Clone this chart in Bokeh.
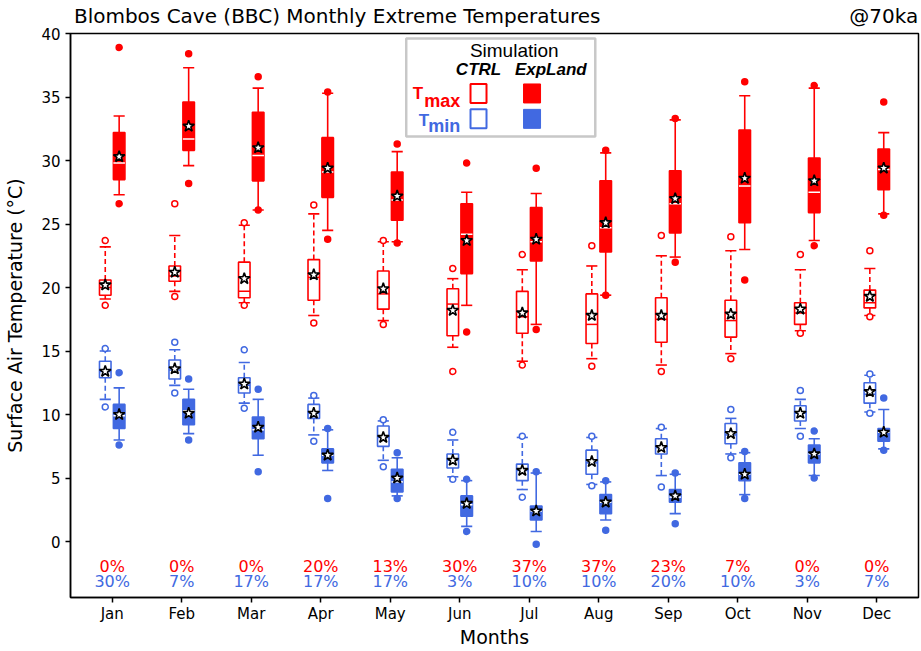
import numpy as np
from bokeh.plotting import figure
from bokeh.models import Range1d, ColumnDataSource, LinearAxis, FixedTicker
from bokeh.core.properties import value
from bokeh.embed import file_html
from bokeh.resources import INLINE

months = ["Jan", "Feb", "Mar", "Apr", "May", "Jun", "Jul", "Aug", "Sep", "Oct", "Nov", "Dec"]

# ---- CTRL Tmax ----
ctrl_tmax_hi_out = [23.7, 26.6, 25.1, 26.5, 23.7, 21.5, 22.6, 23.3, 24.1, 24.0, 22.6, 22.9]
ctrl_tmax_hi = [23.2, 24.1, 24.9, 25.8, 23.6, 20.7, 21.4, 21.7, 22.5, 22.9, 21.4, 21.5]
ctrl_tmax_q3 = [20.6, 21.7, 22.0, 22.2, 21.3, 19.9, 19.7, 19.5, 19.2, 19.0, 18.8, 19.8]
ctrl_tmax_med = [20.0, 20.9, 19.7, 20.8, 19.5, 18.7, 17.7, 17.1, 17.5, 17.4, 18.0, 18.8]
ctrl_tmax_q1 = [19.4, 20.5, 19.2, 19.0, 18.3, 16.2, 16.4, 15.6, 15.7, 16.1, 17.1, 18.4]
ctrl_tmax_lo = [19.1, 19.7, 18.8, 17.8, 17.4, 15.3, 14.2, 14.4, 13.9, 14.8, 16.6, 17.8]
ctrl_tmax_lo_out = [18.6, 19.3, 18.6, 17.2, 17.1, 13.4, 13.9, 13.8, 13.4, 14.4, 16.4, 17.7]
ctrl_tmax_mean = [20.2, 21.2, 20.7, 21.0, 19.9, 18.2, 18.0, 17.8, 17.8, 17.9, 18.3, 19.3]

# ---- ExpLand Tmax ----
exp_tmax_hi_out = [38.9, 38.4, 36.6, 35.4, 31.3, 29.8, 29.4, 30.8, 33.3, 36.2, 35.9, 34.6]
exp_tmax_hi = [33.5, 37.3, 35.7, 35.3, 30.7, 27.5, 27.4, 30.6, 33.2, 35.1, 35.7, 32.2]
exp_tmax_q3 = [32.2, 34.6, 33.8, 31.8, 29.1, 26.6, 26.3, 28.4, 29.2, 32.4, 30.2, 30.9]
exp_tmax_med = [29.8, 31.7, 30.4, 29.1, 26.9, 24.2, 23.6, 24.7, 26.6, 28.0, 27.5, 29.3]
exp_tmax_q1 = [28.5, 30.8, 28.4, 27.1, 25.3, 21.1, 22.1, 22.8, 24.3, 25.1, 25.9, 27.7]
exp_tmax_lo = [27.3, 29.6, 26.1, 24.5, 23.6, 18.6, 17.1, 19.4, 22.4, 23.0, 23.7, 25.8]
exp_tmax_lo_out = [26.6, 28.2, 26.1, 23.8, 23.5, 16.5, 16.7, 19.4, 22.0, 20.6, 23.3, 25.7]
exp_tmax_mean = [30.3, 32.7, 31.0, 29.4, 27.2, 23.7, 23.8, 25.1, 27.0, 28.6, 28.4, 29.4]

# ---- CTRL Tmin ----
ctrl_tmin_hi_out = [15.2, 15.7, 15.1, 11.5, 9.6, 8.6, 8.3, 8.3, 9.0, 10.4, 11.9, 13.2]
ctrl_tmin_hi = [15.0, 15.1, 14.1, 11.3, 9.5, 8.0, 8.2, 8.2, 8.9, 9.7, 11.2, 13.1]
ctrl_tmin_q3 = [14.2, 14.3, 12.9, 10.8, 9.1, 6.9, 6.1, 7.2, 8.1, 9.3, 10.7, 12.5]
ctrl_tmin_med = [13.4, 13.5, 12.3, 10.1, 8.2, 6.4, 5.6, 6.2, 7.4, 8.4, 10.1, 11.6]
ctrl_tmin_q1 = [12.9, 12.8, 11.7, 9.7, 7.5, 5.8, 4.8, 5.3, 6.9, 7.7, 9.5, 10.9]
ctrl_tmin_lo = [11.2, 12.3, 10.9, 8.4, 6.4, 5.1, 4.1, 4.5, 5.2, 6.9, 8.9, 10.2]
ctrl_tmin_lo_out = [10.6, 11.7, 10.5, 7.9, 5.9, 4.9, 3.5, 4.4, 4.3, 6.6, 8.3, 10.1]
ctrl_tmin_mean = [13.4, 13.6, 12.4, 10.1, 8.2, 6.4, 5.6, 6.3, 7.4, 8.5, 10.1, 11.8]

# ---- ExpLand Tmin ----
exp_tmin_hi_out = [13.3, 12.8, 12.0, 8.9, 7.0, 4.9, 5.5, 4.8, 5.4, 7.1, 8.7, 11.3]
exp_tmin_hi = [12.1, 12.0, 11.2, 8.8, 6.6, 4.8, 5.4, 4.7, 5.3, 7.0, 8.1, 10.4]
exp_tmin_q3 = [10.8, 11.2, 9.8, 7.3, 5.7, 3.6, 2.8, 3.7, 4.1, 6.2, 7.6, 8.9]
exp_tmin_med = [9.9, 10.3, 8.8, 6.8, 4.7, 2.9, 2.4, 3.1, 3.5, 5.3, 6.9, 8.6]
exp_tmin_q1 = [8.9, 9.2, 8.1, 6.2, 3.9, 2.0, 1.7, 2.2, 3.1, 4.8, 6.2, 7.9]
exp_tmin_lo = [8.0, 8.5, 6.8, 5.6, 3.6, 1.2, 0.8, 1.7, 2.2, 3.7, 5.2, 7.3]
exp_tmin_lo_out = [7.6, 8.0, 5.5, 3.4, 3.4, 0.8, -0.2, 0.9, 1.4, 3.4, 5.0, 7.2]
exp_tmin_mean = [10.0, 10.1, 9.0, 6.8, 5.0, 3.0, 2.4, 3.1, 3.6, 5.3, 6.9, 8.6]

# ---- percentages ----
tmax_pct = [0, 0, 0, 20, 13, 30, 37, 37, 23, 7, 0, 0]
tmin_pct = [30, 7, 17, 17, 17, 3, 10, 10, 20, 10, 3, 7]

y_ticks = [0, 5, 10, 15, 20, 25, 30, 35, 40]
title_text = "Blombos Cave (BBC) Monthly Extreme Temperatures"
tag_text = "@70ka"

RED = "#ff0000"
BLUE = "#4169e1"
FONT = "DejaVu Sans"
LFONT = "Liberation Sans"

p = figure(width=920, height=650, x_range=Range1d(0.4, 12.6), y_range=Range1d(-4.4, 40),
           output_backend="svg", toolbar_location=None,
           min_border_left=70, min_border_top=33, min_border_right=2, min_border_bottom=52)
p.xgrid.visible = False
p.ygrid.visible = False
p.outline_line_color = "black"
p.outline_line_width = 1.5
p.outline_line_alpha = 1.0

p.xaxis.ticker = list(range(1, 13))
p.xaxis.major_label_overrides = {i + 1: m for i, m in enumerate(months)}
p.yaxis.ticker = y_ticks
for ax in (p.xaxis[0], p.yaxis[0]):
    ax.axis_line_width = 1.5
    ax.axis_line_color = "black"
    ax.major_tick_in = 0
    ax.major_tick_out = 5
    ax.major_tick_line_width = 1.5
    ax.major_tick_line_color = "black"
    ax.minor_tick_line_color = None
    ax.major_label_text_font = FONT
    ax.major_label_text_font_size = "15px"
    ax.major_label_text_color = "black"
    ax.axis_label_text_font = FONT
    ax.axis_label_text_font_size = "19px"
    ax.axis_label_text_font_style = "normal"
    ax.axis_label_text_color = "black"
p.xaxis.axis_label = "Months"
p.yaxis.axis_label = "Surface Air Temperature (°C)"
p.xaxis.major_label_standoff = 2
p.xaxis.axis_label_standoff = 0
p.yaxis.major_label_standoff = 5
p.yaxis.axis_label_standoff = 12

# title line drawn as labels of a bare axis above the frame
title_x = [4.237, 12.10]
top_ax = LinearAxis(ticker=FixedTicker(ticks=title_x),
                    major_label_overrides={title_x[0]: title_text, title_x[1]: tag_text})
top_ax.axis_line_color = None
top_ax.major_tick_line_color = None
top_ax.major_tick_in = 0
top_ax.major_tick_out = 0
top_ax.minor_tick_line_color = None
top_ax.minor_tick_in = 0
top_ax.minor_tick_out = 0
top_ax.major_label_text_font = FONT
top_ax.major_label_text_font_size = "20px"
top_ax.major_label_text_color = "black"
top_ax.major_label_standoff = 6
p.add_layout(top_ax, "above")

mx = np.arange(1, 13)
HW = 0.083
CW = 0.08


def draw_series(offset, hi_out, hi, q3, med, q1, lo, lo_out, mean, color, filled):
    x = mx + offset
    src = ColumnDataSource(dict(x=x, x0=x - HW, x1=x + HW, c0=x - CW, c1=x + CW,
                                hi_out=hi_out, hi=hi, q3=q3, med=med, q1=q1,
                                lo=lo, lo_out=lo_out, mean=mean))
    dash = "solid" if filled else "5 3"
    p.segment(x0="x", y0="q3", x1="x", y1="hi", line_color=color, line_width=1.6,
              line_dash=dash, source=src)
    p.segment(x0="x", y0="q1", x1="x", y1="lo", line_color=color, line_width=1.6,
              line_dash=dash, source=src)
    p.segment(x0="c0", y0="hi", x1="c1", y1="hi", line_color=color, line_width=1.6, source=src)
    p.segment(x0="c0", y0="lo", x1="c1", y1="lo", line_color=color, line_width=1.6, source=src)
    p.quad(left="x0", right="x1", top="q3", bottom="q1",
           fill_color=color if filled else "white", line_color=color, line_width=1.6, source=src)
    p.segment(x0="x0", y0="med", x1="x1", y1="med",
              line_color="white" if filled else color, line_width=1.5, source=src)
    for col in ("hi_out", "lo_out"):
        p.scatter(x="x", y=col, marker="circle", size=6, source=src,
                  fill_color=color if filled else "white", line_color=color, line_width=1.5)
    p.scatter(x="x", y="mean", marker="star", size=12, fill_color="white",
              line_color="black", line_width=1.6, source=src)


draw_series(-0.1, ctrl_tmax_hi_out, ctrl_tmax_hi, ctrl_tmax_q3, ctrl_tmax_med, ctrl_tmax_q1,
            ctrl_tmax_lo, ctrl_tmax_lo_out, ctrl_tmax_mean, RED, False)
draw_series(0.1, exp_tmax_hi_out, exp_tmax_hi, exp_tmax_q3, exp_tmax_med, exp_tmax_q1,
            exp_tmax_lo, exp_tmax_lo_out, exp_tmax_mean, RED, True)
draw_series(-0.1, ctrl_tmin_hi_out, ctrl_tmin_hi, ctrl_tmin_q3, ctrl_tmin_med, ctrl_tmin_q1,
            ctrl_tmin_lo, ctrl_tmin_lo_out, ctrl_tmin_mean, BLUE, False)
draw_series(0.1, exp_tmin_hi_out, exp_tmin_hi, exp_tmin_q3, exp_tmin_med, exp_tmin_q1,
            exp_tmin_lo, exp_tmin_lo_out, exp_tmin_mean, BLUE, True)

# percentage labels
p.text(x=mx, y=[-1.96] * 12, text=[f"{v}%" for v in tmax_pct], text_color=RED,
       text_font=value(FONT), text_font_size="16px", text_align="center", text_baseline="middle")
p.text(x=mx, y=[-3.14] * 12, text=[f"{v}%" for v in tmin_pct], text_color=BLUE,
       text_font=value(FONT), text_font_size="16px", text_align="center", text_baseline="middle")

# legend box
p.quad(left=[5.23], right=[7.95], top=[39.6], bottom=[31.9], fill_color="white",
       line_color="#c8c8c8", line_width=2.5)
p.text(x=[6.784], y=[38.69], text=["Simulation"], text_font=value(LFONT), text_font_size="19px",
       text_align="center", text_baseline="middle", text_color="black")
p.text(x=[6.27, 7.31], y=[37.17, 37.17], text=["CTRL", "ExpLand"], text_font=value(LFONT),
       text_font_size="17px", text_font_style="bold italic", text_align="center",
       text_baseline="middle", text_color="black")
# Tmax / Tmin row labels
p.text(x=[6.007], y=[34.66], text=["max"], text_font=value(LFONT), text_font_size="18px",
       text_font_style="bold", text_align="right", text_baseline="alphabetic", text_color=RED)
p.text(x=[6.007], y=[35.28], x_offset=-37, text=["T"], text_font=value(LFONT), text_font_size="17px",
       text_font_style="bold", text_align="right", text_baseline="alphabetic", text_color=RED)
p.text(x=[6.007], y=[32.69], text=["min"], text_font=value(LFONT), text_font_size="18px",
       text_font_style="bold", text_align="right", text_baseline="alphabetic", text_color=BLUE)
p.text(x=[6.007], y=[33.16], x_offset=-31, text=["T"], text_font=value(LFONT), text_font_size="17px",
       text_font_style="bold", text_align="right", text_baseline="alphabetic", text_color=BLUE)
p.rect(x=[6.27, 6.27], y=[35.28, 33.28], width=16, height=19, width_units="screen",
       height_units="screen", fill_color="white", line_color=[RED, BLUE], line_width=2)
p.rect(x=[7.04, 7.04], y=[35.28, 33.28], width=17, height=19, width_units="screen",
       height_units="screen", fill_color=[RED, BLUE], line_color=[RED, BLUE], line_width=1)

open("out.html", "w").write(file_html(p, INLINE))
